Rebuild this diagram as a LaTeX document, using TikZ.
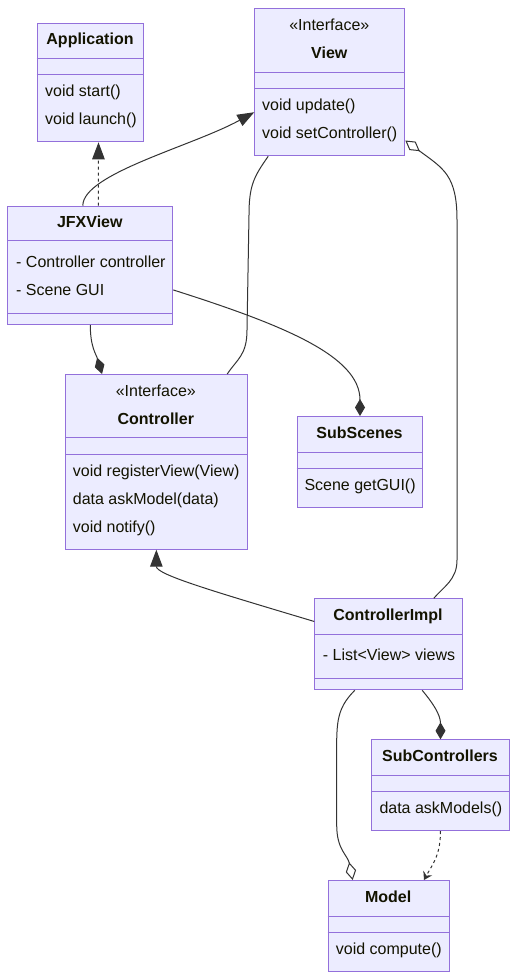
\documentclass[tikz,border=0pt]{standalone}
\usepackage{fontspec}
\setmainfont{Liberation Sans}
\usetikzlibrary{arrows.meta,positioning}

\definecolor{clsfill}{HTML}{ECECFF}
\definecolor{clsline}{HTML}{9370DB}
\definecolor{edgecol}{HTML}{333333}
\definecolor{txtcol}{HTML}{131300}

\begin{document}
\begin{tikzpicture}[
        x=1pt, y=-1pt,
        font=\fontsize{16}{20}\selectfont,
        % class box
        cls/.style={
            rectangle,
            draw=clsline,
            fill=clsfill,
            line width=1pt,
            anchor=north west,
            inner sep=0pt
        },
        % compartment separator
        sepline/.style={draw=clsline, line width=1pt},
        % texts
        cname/.style={font=\fontsize{16}{20}\selectfont\bfseries, text=txtcol,
            inner sep=0pt, text height=16pt, text depth=3.5pt},
        stereo/.style={text=txtcol, inner sep=0pt, text height=16pt, text depth=3.5pt},
        member/.style={anchor=west, text=txtcol, inner sep=0pt,
            text height=16pt, text depth=3.5pt},
        % connectors
        edge/.style={draw=edgecol, line width=1pt},
        inherit/.style={edge, -{Triangle[length=17pt,width=12.5pt]}},
        realize/.style={inherit, dash pattern=on 3pt off 3pt},
        compose/.style={edge, -{Diamond[length=17pt,width=10pt,fill=edgecol]}},
        aggregate/.style={edge, -{Diamond[length=18pt,width=10.5pt,fill=white,line width=1pt]}},
        depend/.style={edge, dash pattern=on 3pt off 3pt, -{Stealth[length=8pt,width=10pt,inset=3pt]}}
    ]

    % white page
    \useasboundingbox[fill=white] (0,0) rectangle (517,980);

    % --- 1. class boxes ---

    % Application
    \node (app) [cls, minimum width=106.6, minimum height=118.6] at (36.7,22.7) {};
    \draw[sepline] ([yshift=-35.6]app.north west) -- ([yshift=-35.6]app.north east);
    \draw[sepline] ([yshift=-52]app.north west) -- ([yshift=-52]app.north east);
    \node (appT) [cname] at (90,38.3) {Application};
    \node (appM1) [member] at (45,90.7) {void start()};
    \node (appM2) [member] at (45,118.3) {void launch()};

    % View
    \node (view) [cls, minimum width=150, minimum height=147] at (254.3,8.3) {};
    \draw[sepline] ([yshift=-63.7]view.north west) -- ([yshift=-63.7]view.north east);
    \draw[sepline] ([yshift=-80]view.north west) -- ([yshift=-80]view.north east);
    \node (viewS) [stereo] at (329.3,24.3) {«Interface»};
    \node (viewT) [cname] at (329.3,52.3) {View};
    \node (viewM1) [member] at (262,104.3) {void update()};
    \node (viewM2) [member] at (262,132.7) {void setController()};

    % JFXView
    \node (jfx) [cls, minimum width=165, minimum height=118.3] at (7.3,205.7) {};
    \draw[sepline] ([yshift=-35]jfx.north west) -- ([yshift=-35]jfx.north east);
    \draw[sepline] ([yshift=-107.6]jfx.north west) -- ([yshift=-107.6]jfx.north east);
    \node (jfxT) [cname] at (89.8,221) {JFXView};
    \node (jfxA1) [member] at (16,261.7) {- Controller controller};
    \node (jfxA2) [member] at (16,289.3) {- Scene GUI};

    % Controller
    \node (ctrl) [cls, minimum width=181.7, minimum height=174.7] at (65,374) {};
    \draw[sepline] ([yshift=-63.7]ctrl.north west) -- ([yshift=-63.7]ctrl.north east);
    \draw[sepline] ([yshift=-80]ctrl.north west) -- ([yshift=-80]ctrl.north east);
    \node (ctrlS) [stereo] at (155.8,390.7) {«Interface»};
    \node (ctrlT) [cname] at (155.8,418.3) {Controller};
    \node (ctrlM1) [member] at (72.7,470.7) {void registerView(View)};
    \node (ctrlM2) [member] at (72.7,498.3) {data askModel(data)};
    \node (ctrlM3) [member] at (72.7,526) {void notify()};

    % SubScenes
    \node (subsc) [cls, minimum width=125.6, minimum height=90.7] at (296.7,416) {};
    \draw[sepline] ([yshift=-36.3]subsc.north west) -- ([yshift=-36.3]subsc.north east);
    \draw[sepline] ([yshift=-52.3]subsc.north west) -- ([yshift=-52.3]subsc.north east);
    \node (subscT) [cname] at (359.5,432.7) {SubScenes};
    \node (subscM1) [member] at (304.3,484.3) {Scene getGUI()};

    % ControllerImpl
    \node (cimpl) [cls, minimum width=147.4, minimum height=91] at (314.3,598.3) {};
    \draw[sepline] ([yshift=-36]cimpl.north west) -- ([yshift=-36]cimpl.north east);
    \draw[sepline] ([yshift=-80.4]cimpl.north west) -- ([yshift=-80.4]cimpl.north east);
    \node (cimplT) [cname] at (388,614.3) {ControllerImpl};
    \node (cimplA1) [member] at (322.7,654.7) {- List<View> views};

    % SubControllers
    \node (subc) [cls, minimum width=138, minimum height=90.7] at (371,739.3) {};
    \draw[sepline] ([yshift=-36.4]subc.north west) -- ([yshift=-36.4]subc.north east);
    \draw[sepline] ([yshift=-52]subc.north west) -- ([yshift=-52]subc.north east);
    \node (subcT) [cname] at (440,755.7) {SubControllers};
    \node (subcM1) [member] at (379.3,807.5) {data askModels()};

    % Model
    \node (model) [cls, minimum width=121, minimum height=91] at (327.7,880) {};
    \draw[sepline] ([yshift=-36]model.north west) -- ([yshift=-36]model.north east);
    \draw[sepline] ([yshift=-52.3]model.north west) -- ([yshift=-52.3]model.north east);
    \node (modelT) [cname] at (388.2,896) {Model};
    \node (modelM1) [member] at (335.7,948.3) {void compute()};

    % --- 2. relations ---

    % JFXView ..|> Application
    \draw[realize] ([xshift=8]jfx.north) -- ([xshift=8]app.south);

    % JFXView --|> View
    \draw[inherit] ([xshift=-7.5]jfx.north) .. controls +(0,-32) and +(-62,34) .. ([yshift=-29.9]view.west);

    % View -- Controller
    \draw[edge] ([xshift=-61.6]view.south) .. controls +(-14,20) and +(0,-30) .. (249,215)
        -- (247,330) .. controls +(0,25) and +(10,-15) .. ([xshift=70.9]ctrl.north);

    % ControllerImpl --o View
    \draw[aggregate] ([xshift=45.3]cimpl.north) .. controls +(10,-12) and +(0,20) .. (457,560)
        -- (457,220) .. controls +(0,-45) and +(38,28) .. ([yshift=-58.2]view.east);

    % JFXView --* Controller
    \draw[compose] (jfx.south) .. controls +(0,22) and +(-6,-20) .. ([xshift=-54.3]ctrl.north);

    % JFXView --* SubScenes
    \draw[compose] ([yshift=-24.6]jfx.east) .. controls +(110,35) and +(0,-60) .. (subsc.north);

    % ControllerImpl --|> Controller
    \draw[inherit] ([yshift=22.8]cimpl.west) .. controls +(-100,-30) and +(0,25) .. (ctrl.south);

    % ControllerImpl --* SubControllers
    \draw[compose] ([xshift=33.7]cimpl.south) .. controls +(10,12) and +(0,-25) .. (subc.north);

    % ControllerImpl --o Model
    \draw[aggregate] ([xshift=-33.7]cimpl.south) .. controls +(-20,20) and +(0,-40) .. (336.7,765)
        -- (336.7,825) .. controls +(0,25) and +(-5,-25) .. ([xshift=-36]model.north);

    % SubControllers ..> Model
    \draw[depend] (subc.south) .. controls +(0,25) and +(8,-15) .. ([xshift=35.3]model.north);

\end{tikzpicture}
\end{document}
